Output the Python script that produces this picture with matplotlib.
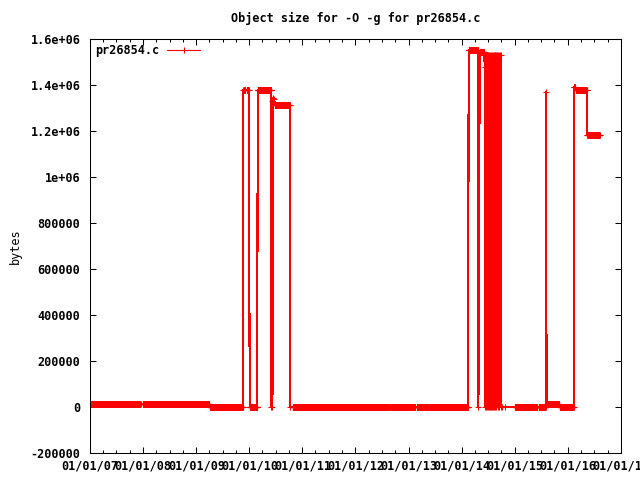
import pandas as pd
import numpy as np
import matplotlib
matplotlib.use('Agg')
import matplotlib.pyplot as plt
import matplotlib.dates as mdates
from matplotlib.ticker import FuncFormatter, MultipleLocator

# nightly object size for pr26854.c: runs of builds with the same size
# (first day, last day, bytes)
run_start = ['2007-01-01', '2007-12-20', '2007-12-29', '2009-04-03',
             '2009-11-21', '2009-12-14', '2010-01-04', '2010-02-28',
             '2010-06-01', '2010-06-05', '2010-06-09', '2010-06-13',
             '2010-06-20', '2010-06-27', '2010-10-08', '2010-10-26',
             '2012-09-02', '2013-02-27', '2013-05-27', '2014-02-18',
             '2014-04-26', '2014-05-05', '2014-06-08']
run_end = ['2007-12-12', '2007-12-20', '2009-04-01', '2009-11-18',
           '2009-12-01', '2009-12-28', '2010-02-24', '2010-05-30',
           '2010-06-01', '2010-06-05', '2010-06-09', '2010-06-13',
           '2010-06-20', '2010-10-06', '2010-10-08', '2012-08-24',
           '2013-02-14', '2013-05-19', '2014-02-14', '2014-04-22',
           '2014-04-26', '2014-06-06', '2014-06-08']
run_bytes = [14000, 14000, 14000, 0,
             1380000, 1380000, 0, 1380000,
             0, 1330000, 0, 1345000,
             1340000, 1313000, 0, 0,
             0, 0, 0, 1554000,
             0, 1543000, 1480000]

# summer 2014: size flipping back and forth
osc_days = ['2014-06-10', '2014-06-13', '2014-06-16', '2014-06-19', '2014-06-22',
            '2014-06-25', '2014-06-28', '2014-07-01', '2014-07-04', '2014-07-07',
            '2014-07-10', '2014-07-13', '2014-07-16', '2014-07-19', '2014-07-22',
            '2014-07-25', '2014-07-28', '2014-07-31', '2014-08-03', '2014-08-06',
            '2014-08-09', '2014-08-12', '2014-08-15', '2014-08-18', '2014-08-21',
            '2014-08-24', '2014-08-27', '2014-09-02', '2014-09-05', '2014-09-08',
            '2014-09-15', '2014-09-18', '2014-09-21', '2014-09-26', '2014-09-29']
osc_bytes = [1530000, 0, 1530000, 0, 1530000,
             0, 1530000, 0, 1530000, 0,
             1530000, 0, 1530000, 0, 1530000,
             0, 1530000, 0, 1530000, 0,
             1530000, 0, 1530000, 0, 1530000,
             0, 1530000, 1530000, 0, 1530000,
             1530000, 0, 1530000, 1530000, 0]

run2_start = ['2014-10-02', '2014-10-27', '2015-01-01', '2015-06-14',
              '2015-08-04', '2015-08-08', '2015-11-05', '2016-02-13',
              '2016-02-23', '2016-05-14']
run2_end = ['2014-10-02', '2014-10-27', '2015-06-03', '2015-08-01',
            '2015-08-04', '2015-11-02', '2016-02-10', '2016-02-20',
            '2016-05-10', '2016-08-08']
run2_bytes = [0, 0, 0, 0,
              1371000, 13000, 0, 1390000,
              1380000, 1181000]

dates = []
vals = []
for a, b, v in zip(run_start, run_end, run_bytes):
    d = pd.date_range(a, b, freq='D')
    dates.extend(d)
    vals.extend([v] * len(d))
for a, v in zip(osc_days, osc_bytes):
    dates.append(pd.Timestamp(a))
    vals.append(v)
for a, b, v in zip(run2_start, run2_end, run2_bytes):
    d = pd.date_range(a, b, freq='D')
    dates.extend(d)
    vals.extend([v] * len(d))

plt.rcParams['font.family'] = 'DejaVu Sans Mono'
plt.rcParams['font.weight'] = 'bold'
plt.rcParams['font.size'] = 8.5
plt.rcParams['path.simplify'] = False

fig = plt.figure(figsize=(6.4, 4.8), dpi=100)
ax = fig.add_axes([90/640, 27/480, 531/640, 414/480])

ax.plot(dates, vals, color='#ff0000', lw=0.8, marker='+', ms=5, mew=0.75,
        antialiased=False, label='pr26854.c')

ax.set_xlim(pd.Timestamp('2007-01-01'), pd.Timestamp('2017-01-01'))
ax.set_ylim(-200000, 1600000)
ax.yaxis.set_major_locator(MultipleLocator(200000))
ax.yaxis.set_major_formatter(FuncFormatter(lambda y, p: '%g' % y))
ax.xaxis.set_major_locator(mdates.YearLocator())
ax.xaxis.set_minor_locator(mdates.MonthLocator(bymonth=[4, 7, 10]))
ax.xaxis.set_major_formatter(mdates.DateFormatter('%m/%d/%y'))

ax.tick_params(which='both', direction='in', top=True, right=True, width=0.75)
ax.tick_params(which='major', length=4, pad=5)
ax.tick_params(axis='y', pad=7)
ax.tick_params(which='minor', length=2.5)
for s in ax.spines.values():
    s.set_linewidth(0.75)

ax.set_title('Object size for -O -g for pr26854.c', pad=12, fontsize=8.5, fontweight='bold')
ax.set_ylabel('bytes')
ax.yaxis.set_label_coords(-0.128, 0.5)

ax.legend(loc='upper left', frameon=False, markerfirst=False, handlelength=2.8,
          handletextpad=0.7, borderaxespad=0.2, borderpad=0.2)

plt.savefig('out.png', dpi=100)
